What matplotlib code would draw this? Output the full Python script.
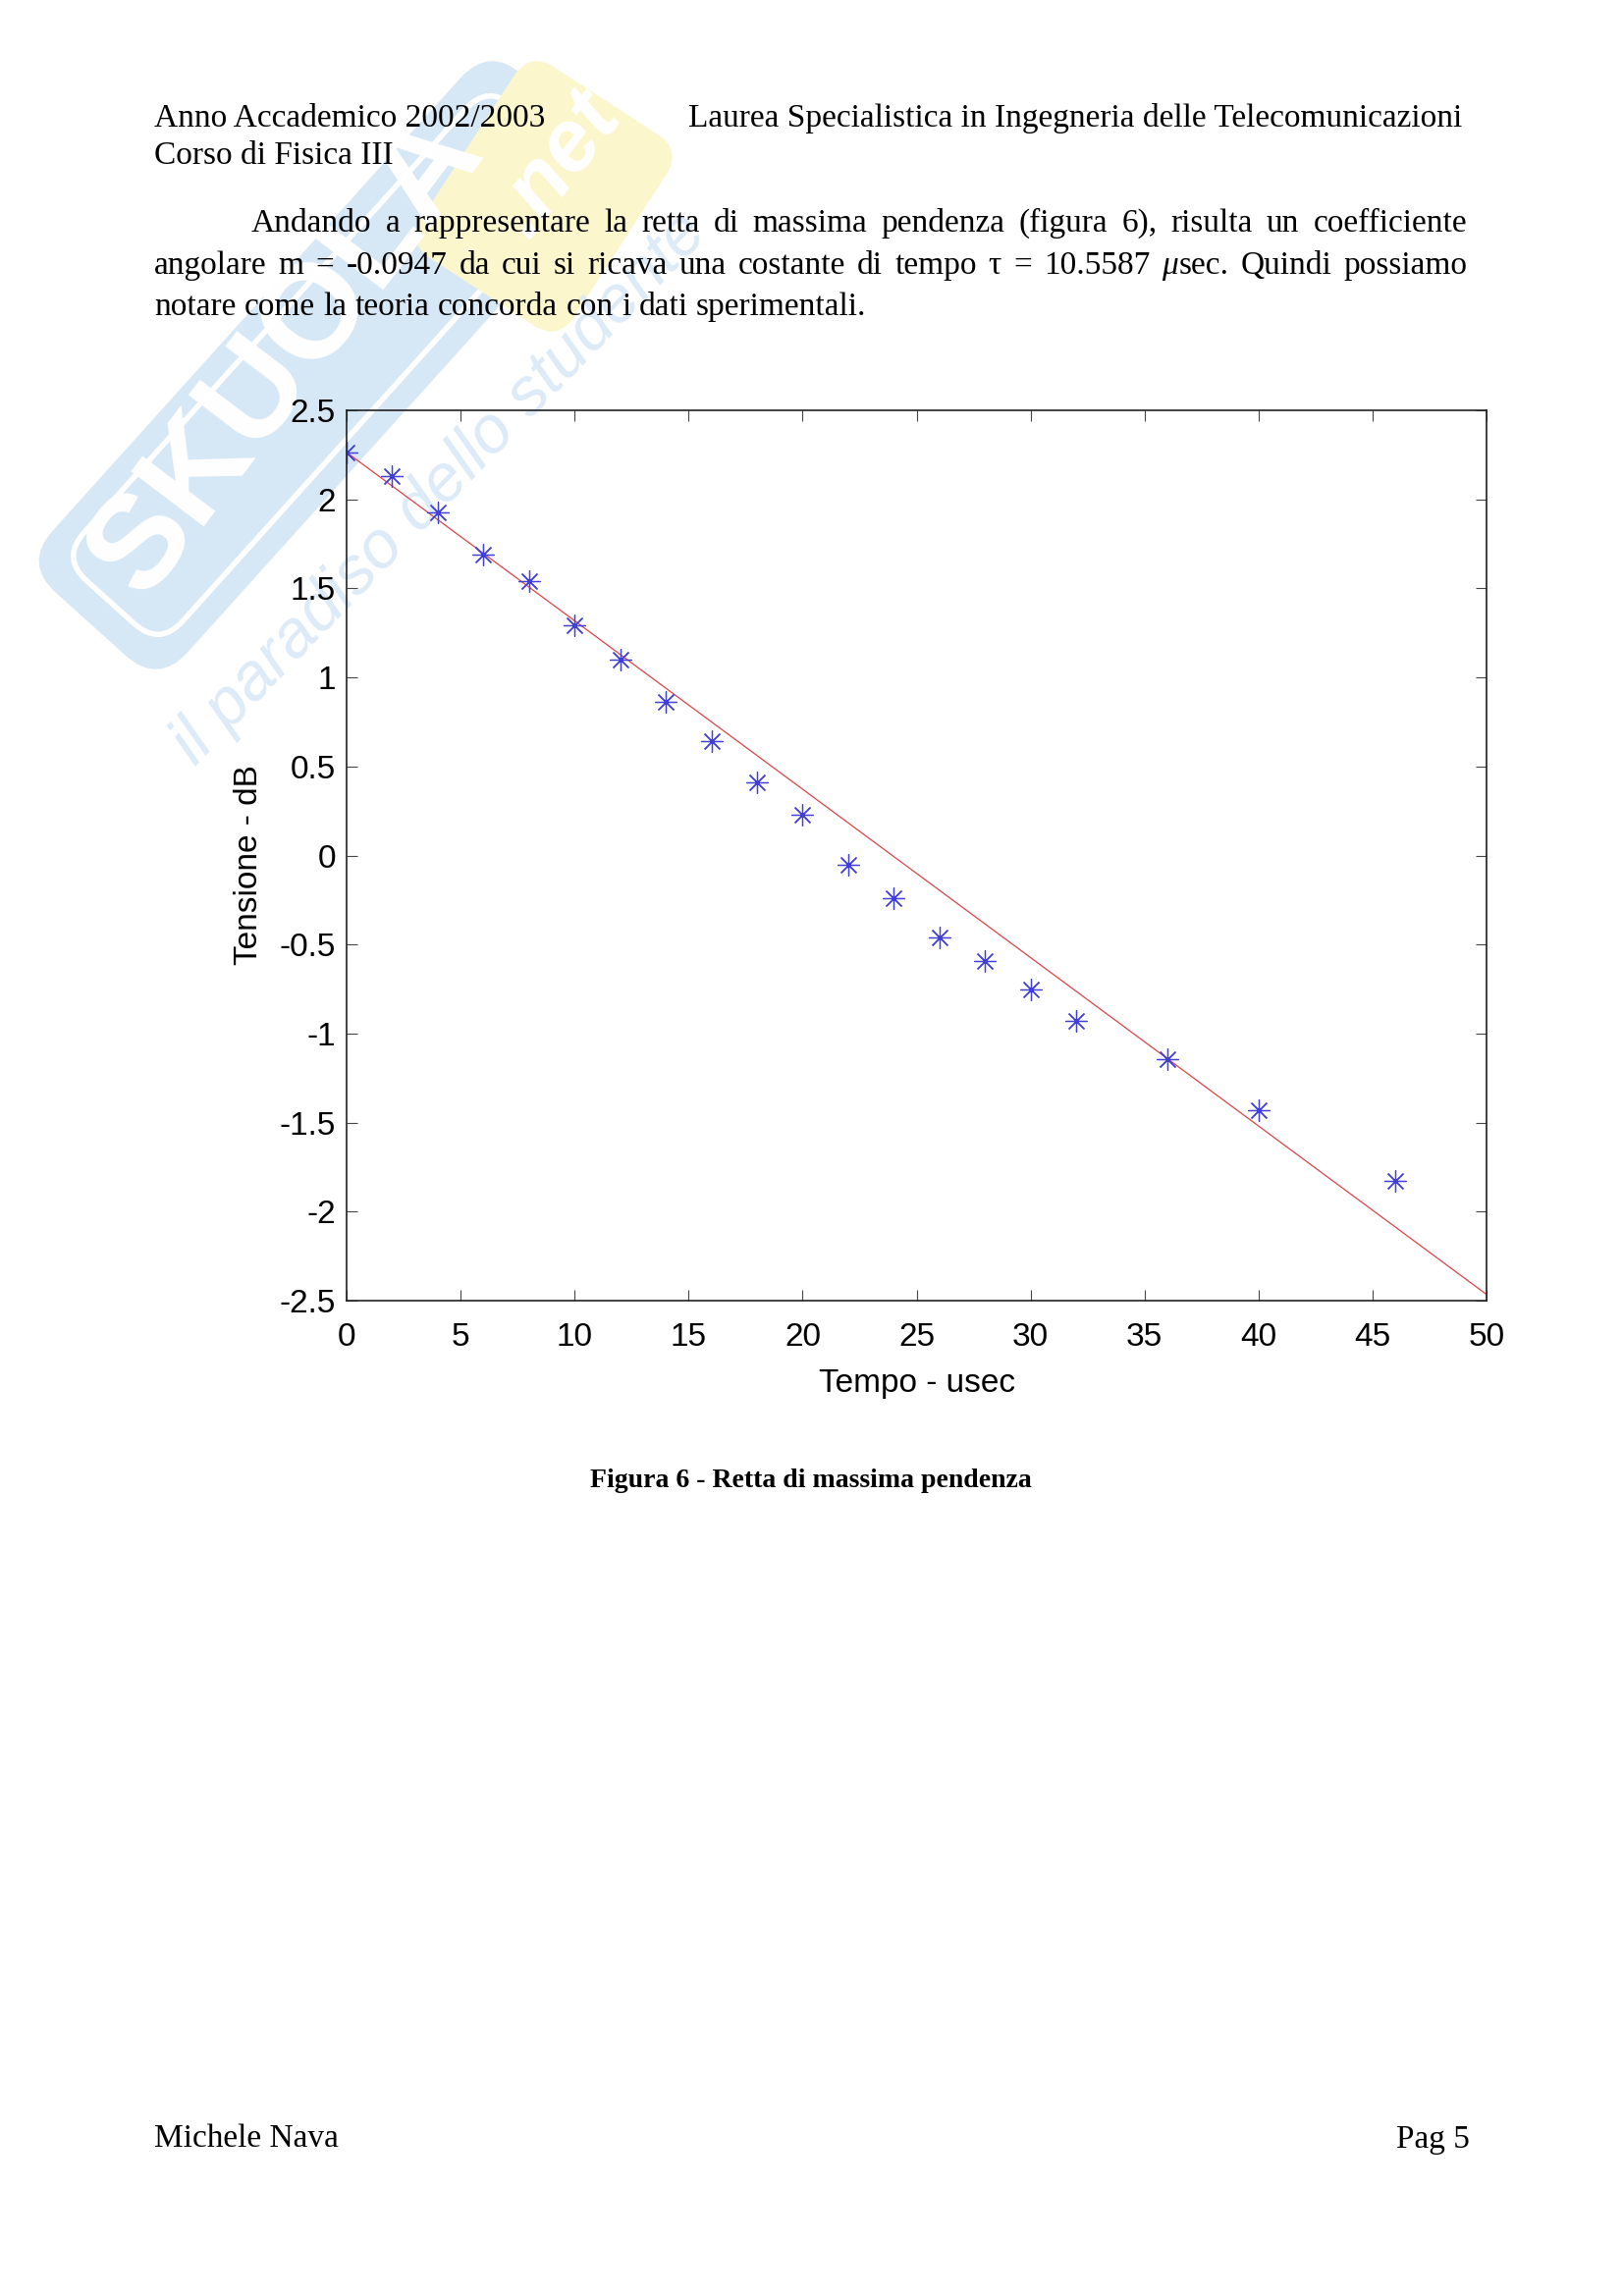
import numpy as np
import matplotlib
matplotlib.use('Agg')
import matplotlib.pyplot as plt
from matplotlib.patches import FancyBboxPatch
from matplotlib.transforms import Affine2D

# dati sperimentali (tempo in usec, tensione in dB)
tempo = [0, 2, 4, 6, 8, 10, 12, 14, 16, 18, 20, 22, 24, 26, 28, 30, 32, 36, 40, 46]
tensione = [2.264, 2.132, 1.924, 1.69, 1.543, 1.295, 1.102, 0.863, 0.642, 0.408,
            0.228, -0.053, -0.241, -0.462, -0.590, -0.752, -0.927, -1.142, -1.433, -1.826]

# retta di massima pendenza (estremi)
retta_x = [0, 50]
retta_y = [2.264, -2.465]

xticks = [0, 5, 10, 15, 20, 25, 30, 35, 40, 45, 50]
yticks = [-2.5, -2, -1.5, -1, -0.5, 0, 0.5, 1, 1.5, 2, 2.5]
xtick_labels = ['0', '5', '10', '15', '20', '25', '30', '35', '40', '45', '50']
ytick_labels = ['-2.5', '-2', '-1.5', '-1', '-0.5', '0', '0.5', '1', '1.5', '2', '2.5']

W, H = 1653, 2339
serif = ['Liberation Serif', 'DejaVu Serif']
sans = ['Liberation Sans', 'DejaVu Sans']

fig = plt.figure(figsize=(W / 100, H / 100), dpi=100)
fig.patch.set_facecolor('white')

# pagina: coordinate in pixel, origine in alto a sinistra
page = fig.add_axes([0, 0, 1, 1], zorder=0)
page.set_xlim(0, W)
page.set_ylim(H, 0)
page.axis('off')


def rot(cx, cy, ang):
    return page.transData + Affine2D().rotate_deg_around(cx, H - cy, ang)


def riquadro(cx, cy, w, h, ang, r, **kw):
    p = FancyBboxPatch((cx - w / 2, cy - h / 2), w, h,
                       boxstyle='round,pad=0,rounding_size=%d' % r,
                       transform=rot(cx, cy, ang), **kw)
    page.add_patch(p)


# filigrana (logo)
wm_blue = '#d6e7f5'
wm_yellow = '#fcf6cc'
riquadro(330, 372, 710, 185, 48, 45, facecolor=wm_blue, edgecolor='none')
riquadro(330, 372, 650, 135, 48, 35, facecolor='none', edgecolor='white', lw=4)
riquadro(554, 200, 185, 232, -33, 30, facecolor=wm_yellow, edgecolor='none')
page.text(292, 362, 'SKUOLA', fontsize=98, fontweight='bold', family=sans, color='white',
          rotation=52.8, rotation_mode='anchor', ha='center', va='center')
page.text(568, 168, '.net', fontsize=64, fontweight='bold', style='italic', family=sans,
          color='white', rotation=52.8, rotation_mode='anchor', ha='center', va='center')
page.text(448, 498, 'il paradiso dello studente', fontsize=49, style='italic', family=sans,
          color='#dcebf7', rotation=46, rotation_mode='anchor', ha='center', va='center')

renderer = fig.canvas.get_renderer()


def riga(testo, x0, x1, y, justify=True, fs=24):
    parole = testo.split(' ')
    oggetti = []
    for p in parole:
        if p.startswith('μ'):
            seg = [(p[0], 'italic'), (p[1:], 'normal')]
        else:
            seg = [(p, 'normal')]
        ts = [page.text(0, y, s, fontsize=fs, family=serif, style=st, va='baseline', ha='left')
              for s, st in seg]
        oggetti.append(ts)
    larg = [sum(t.get_window_extent(renderer).width for t in ts) for ts in oggetti]
    if justify and len(parole) > 1:
        gap = (x1 - x0 - sum(larg)) / (len(parole) - 1)
    else:
        sp = page.text(0, 0, ' ', fontsize=fs, family=serif)
        gap = sp.get_window_extent(renderer).width
        sp.remove()
    x = x0
    for ts, w in zip(oggetti, larg):
        xx = x
        for t in ts:
            t.set_x(xx)
            xx += t.get_window_extent(renderer).width
        x += w + gap


# intestazione
page.text(157, 129, 'Anno Accademico 2002/2003', fontsize=24, family=serif, va='baseline')
page.text(1489, 129, 'Laurea Specialistica in Ingegneria delle Telecomunicazioni', fontsize=24,
          family=serif, va='baseline', ha='right')
page.text(157, 167, 'Corso di Fisica III', fontsize=24, family=serif, va='baseline')

# paragrafo
riga('Andando a rappresentare la retta di massima pendenza (figura 6), risulta un coefficiente',
     256, 1494, 236)
riga('angolare m = -0.0947 da cui si ricava una costante di tempo τ = 10.5587 μsec. Quindi possiamo',
     157, 1494, 279)
riga('notare come la teoria concorda con i dati sperimentali.', 157, 1494, 321, justify=False)

# grafico
x0, x1, y0, y1 = 353, 1514, 418, 1325
ax = fig.add_axes([x0 / W, 1 - y1 / H, (x1 - x0) / W, (y1 - y0) / H], zorder=1)
ax.patch.set_alpha(0)
ax.plot(retta_x, retta_y, color='#dc4448', lw=0.9)
ax.plot(tempo, tensione, linestyle='none', marker=(8, 2, 0), markersize=16,
        markeredgewidth=0.9, color='#4040d8')
ax.set_xlim(0, 50)
ax.set_ylim(-2.5, 2.5)
ax.set_xticks(xticks)
ax.set_xticklabels(xtick_labels)
ax.set_yticks(yticks)
ax.set_yticklabels(ytick_labels)
for lab in ax.get_xticklabels() + ax.get_yticklabels():
    lab.set_family(sans)
ax.tick_params(direction='in', length=7.7, width=0.8, color='#444444', labelsize=24,
               top=True, right=True)
ax.tick_params(axis='x', pad=16)
ax.tick_params(axis='y', pad=8)
for s in ax.spines.values():
    s.set_color('#222222')
    s.set_linewidth(1.2)
ax.set_xlabel('Tempo - usec', fontsize=24, family=sans)
ax.set_ylabel('Tensione - dB', fontsize=24, family=sans)
ax.xaxis.set_label_coords(0.5, -0.0765)
ax.yaxis.set_label_coords(-0.0723, 0.49)

# didascalia e piè di pagina
page.text(826, 1515, 'Figura 6 - Retta di massima pendenza', fontsize=20, fontweight='bold',
          family=serif, ha='center', va='baseline')
page.text(157, 2187, 'Michele Nava', fontsize=24, family=serif, va='baseline')
page.text(1497, 2188, 'Pag 5', fontsize=24, family=serif, va='baseline', ha='right')

fig.savefig('out.png', dpi=100)
